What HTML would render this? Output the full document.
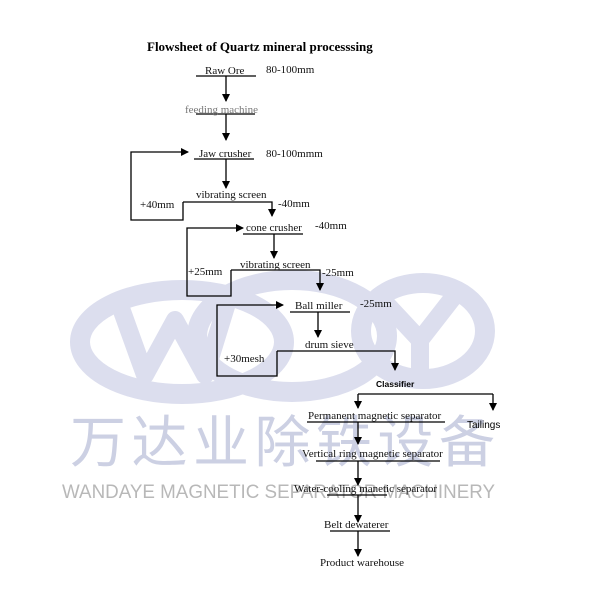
<!DOCTYPE html>
<html><head><style>
body{margin:0;background:#fff}
svg{display:block}
.t{font-family:"Liberation Serif",serif;font-size:11px;fill:#111}
</style></head><body>
<svg width="600" height="600" viewBox="0 0 600 600" xmlns="http://www.w3.org/2000/svg">
<defs><marker id="a" markerWidth="8" markerHeight="8" refX="7" refY="4" orient="auto" markerUnits="userSpaceOnUse"><path d="M0,0 L8,4 L0,8 z" fill="#000"/></marker></defs>
<!-- watermark -->
<g fill="none" stroke="#dcdeee" stroke-width="20">
<ellipse cx="182" cy="342" rx="102" ry="52"/>
<ellipse cx="292" cy="336" rx="95" ry="56"/>
<ellipse cx="423" cy="331" rx="62" ry="48"/>
</g>
<g fill="none" stroke="#dcdeee" stroke-width="18" stroke-linejoin="round">
<polyline points="118,300 145,375 175,320 205,375 228,300"/>
<polyline points="378,295 420,340 455,295"/>
<line x1="420" y1="340" x2="420" y2="378"/>
</g>
<text x="70" y="462" font-family="'Noto Sans CJK SC',sans-serif" font-size="56" fill="#ccd0e3" textLength="425" lengthAdjust="spacing">万达业除铁设备</text>
<text x="62" y="498" font-family="'Liberation Sans',sans-serif" font-size="19.5" fill="#b8b8b8" textLength="433" lengthAdjust="spacingAndGlyphs">WANDAYE MAGNETIC SEPARATOR MACHINERY</text>
<!-- title -->
<text x="147" y="51" font-family="'Liberation Serif',serif" font-weight="bold" font-size="13" fill="#000">Flowsheet of Quartz mineral processsing</text>
<g stroke="#000" stroke-width="1.3" fill="none">
<line x1="196" y1="76" x2="256" y2="76"/>
<line x1="226" y1="76" x2="226" y2="101" marker-end="url(#a)"/>
<line x1="196" y1="114" x2="255" y2="114"/>
<line x1="226" y1="114" x2="226" y2="140" marker-end="url(#a)"/>
<line x1="194" y1="159" x2="254" y2="159"/>
<line x1="226" y1="159" x2="226" y2="188" marker-end="url(#a)"/>
<polyline points="183,202 183,220 131,220 131,152 188,152" marker-end="url(#a)"/>
<polyline points="183,202 272,202 272,216" marker-end="url(#a)"/>
<polyline points="231,270 231,296 187,296 187,228 243,228" marker-end="url(#a)"/>
<line x1="243" y1="234" x2="303" y2="234"/>
<line x1="274" y1="234" x2="274" y2="258" marker-end="url(#a)"/>
<polyline points="231,270 320,270 320,290" marker-end="url(#a)"/>
<polyline points="277,351 277,376 217,376 217,305 283,305" marker-end="url(#a)"/>
<line x1="290" y1="312" x2="350" y2="312"/>
<line x1="318" y1="312" x2="318" y2="337" marker-end="url(#a)"/>
<polyline points="277,351 395,351 395,370" marker-end="url(#a)"/>
<line x1="358" y1="394" x2="493" y2="394"/>
<line x1="358" y1="394" x2="358" y2="408" marker-end="url(#a)"/>
<line x1="493" y1="394" x2="493" y2="410" marker-end="url(#a)"/>
<line x1="307" y1="422" x2="445" y2="422"/>
<line x1="358" y1="422" x2="358" y2="444" marker-end="url(#a)"/>
<line x1="316" y1="461" x2="440" y2="461"/>
<line x1="358" y1="461" x2="358" y2="485" marker-end="url(#a)"/>
<line x1="327" y1="495" x2="387" y2="495"/>
<line x1="358" y1="495" x2="358" y2="522" marker-end="url(#a)"/>
<line x1="330" y1="531" x2="390" y2="531"/>
<line x1="358" y1="531" x2="358" y2="556" marker-end="url(#a)"/>
</g>
<text class="t" x="205" y="74">Raw Ore</text>
<text class="t" x="266" y="73">80-100mm</text>
<text class="t" x="185" y="113" style="fill:#777">feeding machine</text>
<text class="t" x="199" y="157">Jaw crusher</text>
<text class="t" x="266" y="157">80-100mmm</text>
<text class="t" x="196" y="198">vibrating screen</text>
<text class="t" x="140" y="208">+40mm</text>
<text class="t" x="278" y="207">-40mm</text>
<text class="t" x="246" y="231">cone crusher</text>
<text class="t" x="315" y="229">-40mm</text>
<text class="t" x="240" y="268">vibrating screen</text>
<text class="t" x="188" y="275">+25mm</text>
<text class="t" x="322" y="276">-25mm</text>
<text class="t" x="295" y="309">Ball miller</text>
<text class="t" x="360" y="307">-25mm</text>
<text class="t" x="305" y="348">drum sieve</text>
<text class="t" x="224" y="362">+30mesh</text>
<text x="376" y="387" font-family="'Liberation Sans',sans-serif" font-weight="bold" font-size="8.5" fill="#000">Classifier</text>
<text x="467" y="428" font-family="'Liberation Sans',sans-serif" font-size="10" fill="#000">Tailings</text>
<text class="t" x="308" y="419">Permanent magnetic separator</text>
<text class="t" x="302" y="457">Vertical ring magnetic separator</text>
<text class="t" x="294" y="492">Water-cooling manetic separator</text>
<text class="t" x="324" y="528">Belt dewaterer</text>
<text class="t" x="320" y="566">Product warehouse</text>
</svg>
</body></html>
